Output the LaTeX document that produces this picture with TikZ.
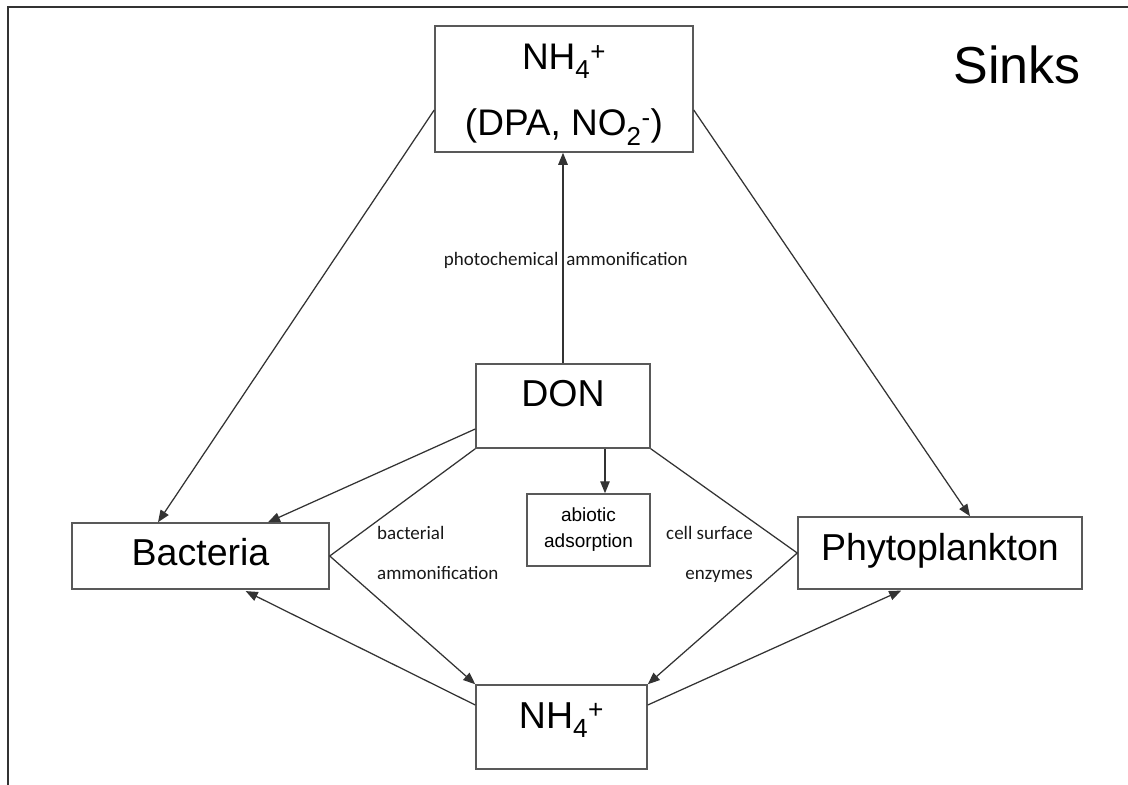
\documentclass[tikz,border=0pt]{standalone}
\usepackage{fontspec}
\setmainfont{Liberation Sans}
\newfontfamily\lblfont{Carlito}
\usetikzlibrary{arrows.meta,calc}
\begin{document}
\begin{tikzpicture}[x=1pt,y=-1pt,
  boxn/.style={draw=black!65, line width=1.5pt, rectangle, inner sep=0pt,
    font=\fontsize{37.5}{44}\selectfont},
  conn/.style={draw=black!80, line width=1.25pt},
  arr/.style={conn, -{Triangle[length=12pt,width=9.5pt]}},
  lbl/.style={font=\lblfont\fontsize{19}{23}\selectfont, inner sep=0pt, text=black!90},
  frame/.style={draw=black!80, line width=2pt}]
\useasboundingbox (0,0) rectangle (1128,785);
\fill[white] (0,0) rectangle (1128,785);
% frame (top and left edges)
\draw[frame] (8,785) -- (8,7) -- (1128,7);
% title
\node[font=\fontsize{52}{60}\selectfont, anchor=base, inner sep=0pt] (title) at (1017,83) {Sinks};
% boxes
\node[boxn, minimum width=258pt, minimum height=126pt, align=center,
  font=\fontsize{37}{66}\selectfont] (top) at (564,89)
  {\rule{0pt}{36.5pt}NH\textsubscript{4}\textsuperscript{+}\\(DPA, NO\textsubscript{2}\textsuperscript{-})};
\node[boxn, minimum width=174pt, minimum height=84pt, text height=27pt, text depth=27pt] (don) at (563,406) {DON};
\node[boxn, minimum width=257pt, minimum height=66pt, text height=27pt, text depth=9pt] (bact) at (200.5,556) {Bacteria};
\node[boxn, minimum width=284pt, minimum height=72pt, text height=27pt, text depth=12pt] (phyto) at (940,553) {Phytoplankton};
\node[boxn, minimum width=171pt, minimum height=84pt, text height=27pt, text depth=25pt] (nh) at (561.5,727) {NH\textsubscript{4}\textsuperscript{+}};
\node[boxn, minimum width=123pt, minimum height=72pt, align=center,
  font=\fontsize{19}{26}\selectfont] (abio) at (588.5,530) {abiotic\\adsorption};
% connectors
\draw[arr] ($(top.west)+(0,21)$) -- ($(bact.north)+(-42.5,0)$);
\draw[arr] ($(top.east)+(0,21)$) -- ($(phyto.north)+(30,0)$);
\draw[arr] (don.north) -- (don.north |- top.south);
\draw[arr] ($(don.west)+(0,23)$) -- ($(bact.north)+(67.5,0)$);
\draw[arr] (don.south west) -- (bact.east) -- (nh.north west);
\draw[arr] (don.south east) -- (phyto.west) -- (nh.north east);
\draw[arr, shorten >=3pt] ($(nh.west)+(0,-22)$) -- ($(bact.south)+(42.5,0)$);
\draw[arr, shorten >=2pt] ($(nh.east)+(0,-22)$) -- ($(phyto.south)+(-37,0)$);
\draw[arr] ($(don.south)+(42,0)$) -- ($(abio.north)+(16.5,0)$);
% labels
\node[lbl, anchor=base] (lphoto) at (565.8,265) {photochemical\hspace{8pt}ammonification};
\node[lbl, anchor=base west] (lbact1) at (377,539.5) {bacterial};
\node[lbl, anchor=base west] (lbact2) at (377,579.5) {ammonification};
\node[lbl, anchor=base east] (lcell1) at (753,539.5) {cell surface};
\node[lbl, anchor=base east] (lcell2) at (753,579.5) {enzymes};
\end{tikzpicture}
\end{document}
